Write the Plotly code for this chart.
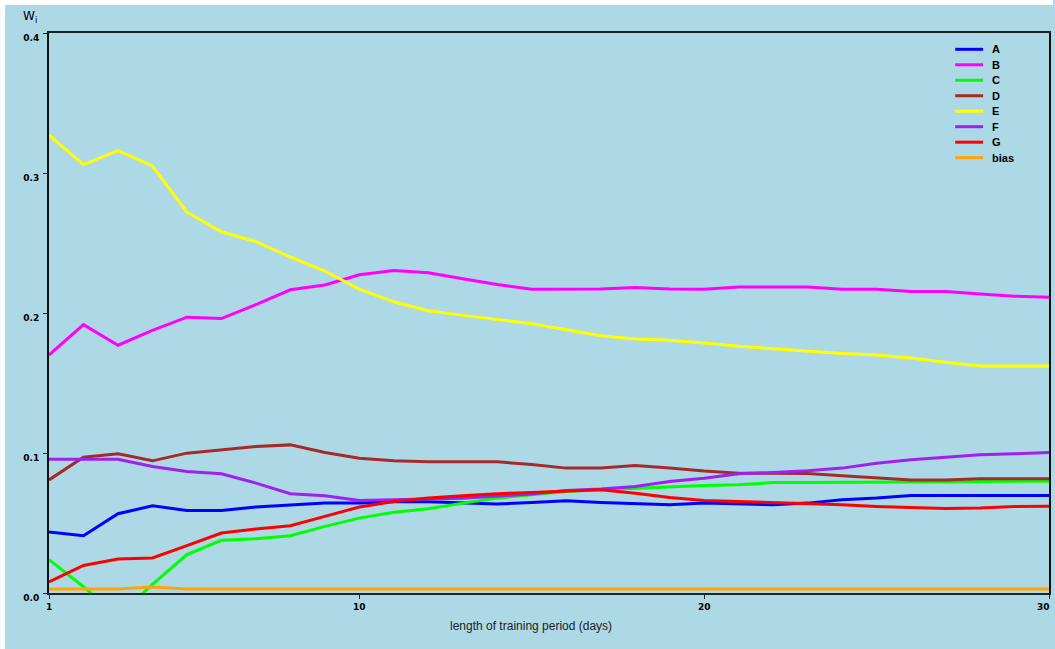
import plotly.graph_objects as go

days = list(range(1, 31))

A = [0.0435, 0.0409, 0.0566, 0.0623, 0.059, 0.059, 0.0614, 0.063, 0.0642, 0.0642,
     0.0651, 0.0651, 0.0642, 0.0635, 0.0647, 0.0659, 0.0647, 0.0637, 0.063, 0.0642,
     0.0637, 0.063, 0.0642, 0.0666, 0.0678, 0.0697, 0.0697, 0.0697, 0.0697, 0.0697]
B = [0.170, 0.1917, 0.177, 0.1876, 0.197, 0.196, 0.206, 0.2166, 0.220, 0.2273,
     0.2304, 0.2287, 0.2244, 0.2204, 0.217, 0.217, 0.2172, 0.2182, 0.2172, 0.217,
     0.2185, 0.2185, 0.2185, 0.217, 0.217, 0.2153, 0.2153, 0.2136, 0.212, 0.2113]
C = [0.0238, 0.0045, -0.017, 0.0062, 0.0274, 0.0376, 0.0388, 0.0409, 0.0476, 0.0535,
     0.0576, 0.0602, 0.0642, 0.0678, 0.0701, 0.0725, 0.0737, 0.0749, 0.0761, 0.0768,
     0.0773, 0.0789, 0.0789, 0.0789, 0.0789, 0.0792, 0.0795, 0.0797, 0.0797, 0.0799]
D = [0.0808, 0.097, 0.0994, 0.0944, 0.0999, 0.1022, 0.1046, 0.1058, 0.1003, 0.0963,
     0.0944, 0.0937, 0.0937, 0.0937, 0.0917, 0.0892, 0.0892, 0.0911, 0.0892, 0.0871,
     0.0856, 0.0856, 0.0854, 0.0837, 0.082, 0.0808, 0.0808, 0.0816, 0.0816, 0.0816]
E = [0.327, 0.306, 0.316, 0.305, 0.272, 0.258, 0.251, 0.240, 0.230, 0.217,
     0.208, 0.2016, 0.1983, 0.1952, 0.1924, 0.1881, 0.1838, 0.1815, 0.1805, 0.1786,
     0.1762, 0.1745, 0.1726, 0.171, 0.170, 0.1679, 0.1648, 0.1622, 0.1622, 0.1622]
F = [0.0956, 0.0956, 0.0956, 0.0903, 0.0868, 0.0851, 0.0785, 0.0709, 0.0694, 0.0661,
     0.0666, 0.0673, 0.0677, 0.0692, 0.0707, 0.0732, 0.0742, 0.0761, 0.0797, 0.082,
     0.0851, 0.0861, 0.0873, 0.0892, 0.0927, 0.0951, 0.0967, 0.0987, 0.0994, 0.1003]
G = [0.0079, 0.0197, 0.0243, 0.025, 0.0338, 0.0428, 0.0457, 0.048, 0.0547, 0.0614,
     0.0654, 0.0678, 0.0694, 0.0709, 0.0718, 0.073, 0.0737, 0.0713, 0.0682, 0.0661,
     0.0654, 0.0647, 0.0642, 0.063, 0.0618, 0.0613, 0.0604, 0.0607, 0.0618, 0.062]
bias = [0.0029, 0.0029, 0.0029, 0.0043, 0.0029, 0.0029, 0.0029, 0.0029, 0.0029, 0.0029,
        0.0029, 0.0029, 0.0029, 0.0029, 0.0029, 0.0029, 0.0029, 0.0029, 0.0029, 0.0029,
        0.0029, 0.0029, 0.0029, 0.0029, 0.0029, 0.0029, 0.0029, 0.0029, 0.0029, 0.0029]

names = ["A", "B", "C", "D", "E", "F", "G", "bias"]
series = [A, B, C, D, E, F, G, bias]
colors = ["#0000ff", "#ff00ff", "#00ff00", "#a52a2a", "#ffff00", "#a020f0", "#ff0000", "#ffa500"]

x_ticks = [1, 10, 20]      # labelled by the axis
x_last = 30                # right-edge tick, labelled flush with the edge
y_ticks = [0.0, 0.1, 0.2, 0.3, 0.4]

W, H = 1055, 649
ML, MR, MT, MB = 49, 4, 33, 56
PW, PH = W - ML - MR, H - MT - MB
PL, PB = ML, H - MB  # plot-area left / bottom in window pixels

def px(xpix):
    return (xpix - PL) / PW

def py(ypix):
    return (PB - ypix) / PH

fig = go.Figure()
for n, s, c in zip(names, series, colors):
    fig.add_trace(go.Scatter(x=days, y=s, mode="lines", name=n,
                             line=dict(color=c, width=3), showlegend=False))

BG = "#add8e6"
tickfont = dict(family="DejaVu Sans", size=9, color="black", weight="bold")

# thin white frame strip along the top and left edges (kept inside the figure)
shapes = [
    dict(type="rect", xref="paper", yref="paper", x0=px(0), x1=px(W), y0=py(5), y1=py(0),
         fillcolor="white", line_width=0, layer="below"),
    dict(type="rect", xref="paper", yref="paper", x0=px(0), x1=px(5), y0=py(H), y1=py(0),
         fillcolor="white", line_width=0, layer="below"),
]
annotations = []

# legend block (top right)
leg_y0, leg_dy = 49.3, 15.48
for i, (n, c) in enumerate(zip(names, colors)):
    yy = py(leg_y0 + i * leg_dy)
    shapes.append(dict(type="line", xref="paper", yref="paper", x0=px(957), x1=px(985),
                       y0=yy, y1=yy, line=dict(color=c, width=3)))
    annotations.append(dict(text=n, xref="paper", yref="paper", x=px(992), y=yy,
                            xanchor="left", yanchor="middle", showarrow=False,
                            font=dict(family="Liberation Sans", size=11, color="black", weight="bold")))

annotations.append(dict(text="W<sub>i</sub>", xref="paper", yref="paper", x=px(30), y=py(17),
                        xanchor="center", yanchor="middle", showarrow=False,
                        font=dict(family="DejaVu Sans", size=12, color="black")))
annotations.append(dict(text="length of training period (days)", xref="paper", yref="paper",
                        x=px(532), y=py(626), xanchor="center", yanchor="middle", showarrow=False,
                        font=dict(family="Liberation Sans", size=12, color="#222")))
annotations.append(dict(text=str(x_last), xref="x", yref="paper", x=x_last, y=py(607),
                        xanchor="right", yanchor="middle", xshift=3, showarrow=False,
                        font=tickfont))

fig.update_layout(
    width=W, height=H,
    margin=dict(l=ML, r=MR, t=MT, b=MB, pad=0),
    paper_bgcolor=BG, plot_bgcolor=BG,
    shapes=shapes, annotations=annotations,
    xaxis=dict(range=[1, 30], tickvals=x_ticks, ticktext=[str(v) for v in x_ticks],
               showgrid=False, zeroline=False, showline=True, linecolor="#222", linewidth=2,
               mirror=True, ticks="outside", ticklen=4, tickwidth=1, tickcolor="#222",
               tickfont=tickfont,
               minor=dict(tickvals=[x_last], ticks="outside", ticklen=4, tickwidth=1,
                          tickcolor="#222", showgrid=False)),
    yaxis=dict(range=[0, 0.4], tickvals=y_ticks, ticktext=["%.1f" % v for v in y_ticks],
               showgrid=False, zeroline=False, showline=True, linecolor="#111", linewidth=2,
               mirror=True, ticks="outside", ticklen=4, tickwidth=1, tickcolor="#222",
               tickfont=tickfont, ticklabelshift=5, ticklabelstandoff=2),
    showlegend=False,
)

fig.write_html("out.html", config={"displayModeBar": False},
               post_script="document.body.style.margin='0';"
                           "document.documentElement.style.overflow='hidden';"
                           "document.body.style.overflow='hidden';")
